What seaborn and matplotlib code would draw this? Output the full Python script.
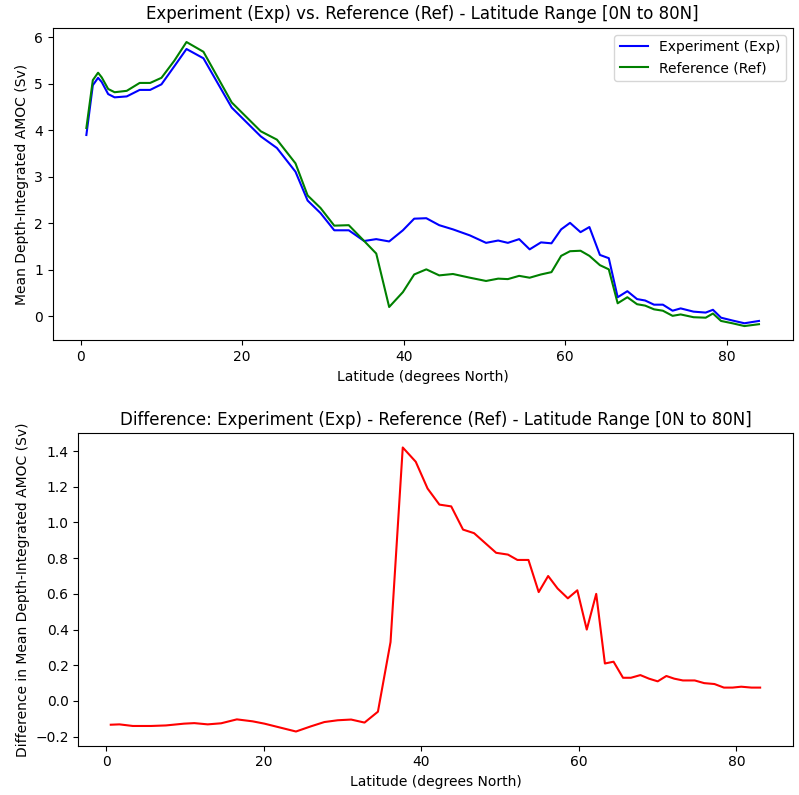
import numpy as np
import pandas as pd
import seaborn as sns
import matplotlib
matplotlib.use("Agg")
import matplotlib.pyplot as plt

# Latitudes (degrees North) for the mean AMOC profiles
lat = [0.7, 1.5, 2.15, 2.6, 3.4, 4.2, 5.7, 7.3, 8.6, 10.0, 11.6, 13.1, 15.2,
       18.7, 22.3, 24.3, 26.6, 28.1, 29.7, 31.4, 33.2, 35.1, 36.6, 38.2, 39.9,
       41.3, 42.8, 44.4, 46.1, 48.2, 50.2, 51.7, 52.9, 54.3, 55.6, 57.0, 58.3,
       59.5, 60.6, 61.9, 63.0, 64.3, 65.4, 66.5, 67.7, 68.9, 69.9, 71.0, 72.1,
       73.3, 74.3, 75.9, 77.4, 78.3, 79.3, 80.7, 82.2, 84.0]

exp_amoc = [3.90, 4.97, 5.13, 5.04, 4.78, 4.71, 4.73, 4.87, 4.87, 4.99, 5.38,
            5.75, 5.55, 4.49, 3.87, 3.62, 3.11, 2.49, 2.22, 1.85, 1.85, 1.62,
            1.66, 1.61, 1.85, 2.10, 2.11, 1.96, 1.87, 1.74, 1.58, 1.63, 1.58,
            1.66, 1.44, 1.59, 1.57, 1.87, 2.01, 1.81, 1.92, 1.32, 1.25, 0.41,
            0.54, 0.37, 0.34, 0.25, 0.25, 0.12, 0.17, 0.10, 0.08, 0.14, -0.03,
            -0.09, -0.15, -0.10]

ref_amoc = [4.05, 5.08, 5.24, 5.14, 4.89, 4.82, 4.85, 5.02, 5.02, 5.13, 5.50,
            5.90, 5.69, 4.60, 3.98, 3.80, 3.29, 2.60, 2.33, 1.95, 1.96, 1.62,
            1.35, 0.20, 0.52, 0.90, 1.01, 0.88, 0.91, 0.83, 0.76, 0.81, 0.80,
            0.87, 0.83, 0.90, 0.95, 1.30, 1.40, 1.41, 1.30, 1.10, 1.01, 0.28,
            0.41, 0.26, 0.23, 0.15, 0.12, 0.01, 0.04, -0.02, -0.03, 0.06, -0.10,
            -0.15, -0.21, -0.17]

# Difference profile (its own latitude grid)
lat_diff = [0.6, 1.7, 3.4, 5.7, 7.6, 9.9, 11.2, 12.9, 14.6, 16.6, 18.6, 20.1,
            24.1, 26.0, 27.7, 29.4, 31.1, 32.8, 34.5, 36.1, 37.65, 39.3, 40.8,
            42.3, 43.8, 45.3, 46.7, 49.5, 51.0, 52.2, 53.6, 54.9, 56.1, 57.3,
            58.6, 59.8, 61.0, 62.2, 63.3, 64.4, 65.6, 66.6, 67.8, 68.9, 70.0,
            71.1, 72.1, 73.2, 74.7, 75.9, 77.2, 78.4, 79.5, 80.6, 81.9, 83.0]

diff_amoc = [-0.133, -0.131, -0.14, -0.14, -0.137, -0.127, -0.124, -0.131,
             -0.125, -0.103, -0.114, -0.127, -0.171, -0.142, -0.118, -0.108,
             -0.104, -0.121, -0.06, 0.33, 1.42, 1.34, 1.19, 1.10, 1.09, 0.96,
             0.94, 0.83, 0.82, 0.79, 0.79, 0.61, 0.70, 0.63, 0.575, 0.62, 0.40,
             0.60, 0.21, 0.22, 0.13, 0.13, 0.145, 0.125, 0.11, 0.14, 0.125,
             0.115, 0.115, 0.10, 0.095, 0.075, 0.075, 0.08, 0.075, 0.075]

fig, (ax1, ax2) = plt.subplots(2, 1, figsize=(7.99, 7.95), dpi=100)

sns.lineplot(x=lat, y=exp_amoc, ax=ax1, color="blue", label="Experiment (Exp)")
sns.lineplot(x=lat, y=ref_amoc, ax=ax1, color="green", label="Reference (Ref)")
ax1.set_title("Experiment (Exp) vs. Reference (Ref) - Latitude Range [0N to 80N]")
ax1.set_xlabel("Latitude (degrees North)")
ax1.set_ylabel("Mean Depth-Integrated AMOC (Sv)")
ax1.legend(loc="upper right")

sns.lineplot(x=lat_diff, y=diff_amoc, ax=ax2, color="red")
ax2.set_title("Difference: Experiment (Exp) - Reference (Ref) - Latitude Range [0N to 80N]")
ax2.set_xlabel("Latitude (degrees North)")
ax2.set_ylabel("Difference in Mean Depth-Integrated AMOC (Sv)")

# place axes to match the reference layout
ax1.set_position([0.066, 0.572, 0.926, 0.393])
ax2.set_position([0.098, 0.062, 0.894, 0.393])

plt.savefig("out.png")
